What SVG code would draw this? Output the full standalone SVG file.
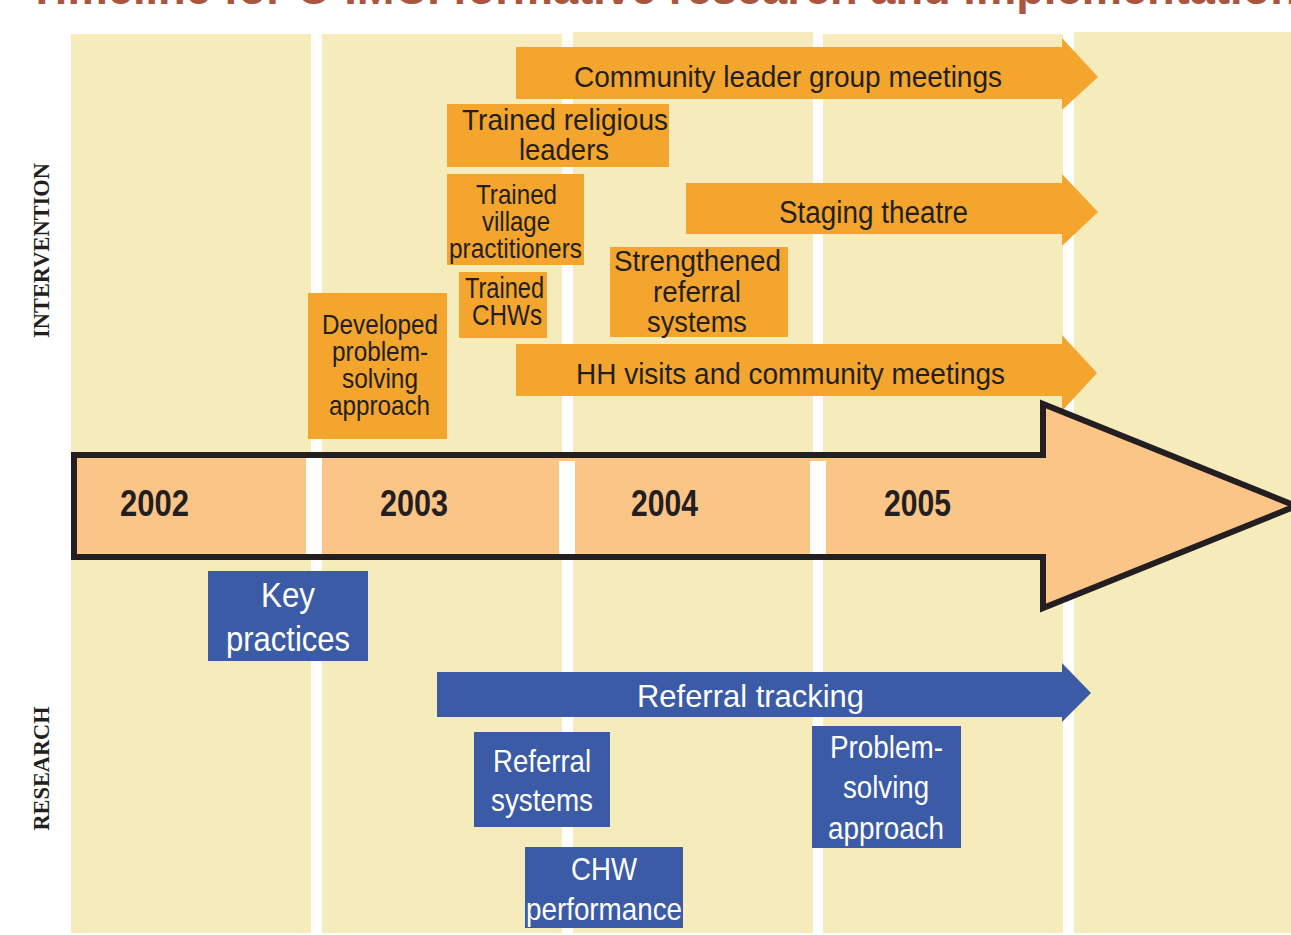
<svg xmlns="http://www.w3.org/2000/svg" width="1291" height="935" viewBox="0 0 1291 935">
<style>
.col{fill:#F5EBBB}
.gap{fill:#FFFFFF}
.orange{fill:#F4A52D}
.blue{fill:#3B5BA7}
.t{font-family:"Liberation Sans",Arial,Helvetica,sans-serif;fill:#231F20;lengthAdjust:spacingAndGlyphs}
.tw{font-family:"Liberation Sans",Arial,Helvetica,sans-serif;fill:#FFFFFF}
.yr{font-family:"Liberation Sans",Arial,Helvetica,sans-serif;font-weight:bold;font-size:37px;fill:#231F20}
.side{font-family:"Liberation Serif","Times New Roman",serif;font-weight:bold;font-size:24px;fill:#231F20}
</style>
<rect x="0" y="0" width="1291" height="935" fill="#FFFFFF"/>
<text x="28" y="4" font-family="Liberation Sans, Arial, sans-serif" font-weight="bold" font-size="46" fill="#A9553F" textLength="1270" lengthAdjust="spacingAndGlyphs">Timeline for C-IMCI formative research and implementation</text>

<g id="columns">
<rect class="col" x="71" y="34" width="240" height="899"/>
<rect class="col" x="322" y="34" width="240" height="899"/>
<rect class="col" x="573" y="32" width="240" height="901"/>
<rect class="col" x="823" y="34" width="240" height="899"/>
<rect class="col" x="1074" y="32" width="217" height="901"/>
</g>

<g id="label-intervention">
<text class="side" transform="translate(49,250.5) rotate(-90)" x="-87.5" y="0" textLength="175" lengthAdjust="spacingAndGlyphs">INTERVENTION</text>
</g>
<g id="label-research">
<text class="side" transform="translate(49,768.5) rotate(-90)" x="-62" y="0" textLength="124" lengthAdjust="spacingAndGlyphs">RESEARCH</text>
</g>

<g id="community-leader-meetings">
<polygon class="orange" points="516,47 1062,47 1062,38 1098,77 1062,110 1062,99 516,99"/>
<text class="t" x="574" y="87" font-size="30" textLength="428" lengthAdjust="spacingAndGlyphs">Community leader group meetings</text>
</g>

<g id="trained-religious-leaders">
<rect class="orange" x="447" y="104" width="222" height="63"/>
<text class="t" x="462" y="130" font-size="30" textLength="206" lengthAdjust="spacingAndGlyphs">Trained religious</text>
<text class="t" x="519" y="160" font-size="30" textLength="90" lengthAdjust="spacingAndGlyphs">leaders</text>
</g>

<g id="trained-village-practitioners">
<rect class="orange" x="447" y="174" width="137" height="91"/>
<text class="t" x="476" y="204" font-size="28" textLength="81" lengthAdjust="spacingAndGlyphs">Trained</text>
<text class="t" x="482" y="231" font-size="28" textLength="68" lengthAdjust="spacingAndGlyphs">village</text>
<text class="t" x="449" y="258" font-size="28" textLength="133" lengthAdjust="spacingAndGlyphs">practitioners</text>
</g>

<g id="staging-theatre">
<polygon class="orange" points="686,183 1062,183 1062,174 1098,212 1062,246 1062,234 686,234"/>
<text class="t" x="779" y="223" font-size="31" textLength="189" lengthAdjust="spacingAndGlyphs">Staging theatre</text>
</g>

<g id="trained-chws">
<rect class="orange" x="459" y="272" width="88" height="66"/>
<text class="t" x="465" y="298" font-size="29" textLength="79" lengthAdjust="spacingAndGlyphs">Trained</text>
<text class="t" x="472" y="325" font-size="29" textLength="70" lengthAdjust="spacingAndGlyphs">CHWs</text>
</g>

<g id="strengthened-referral-systems">
<rect class="orange" x="610" y="247" width="178" height="90"/>
<text class="t" x="614" y="271" font-size="30" textLength="167" lengthAdjust="spacingAndGlyphs">Strengthened</text>
<text class="t" x="653" y="302" font-size="30" textLength="88" lengthAdjust="spacingAndGlyphs">referral</text>
<text class="t" x="647" y="332" font-size="30" textLength="100" lengthAdjust="spacingAndGlyphs">systems</text>
</g>

<g id="developed-problem-solving">
<rect class="orange" x="308" y="293" width="139" height="146"/>
<text class="t" x="322" y="334" font-size="28" textLength="116" lengthAdjust="spacingAndGlyphs">Developed</text>
<text class="t" x="332" y="361" font-size="28" textLength="96" lengthAdjust="spacingAndGlyphs">problem-</text>
<text class="t" x="342" y="388" font-size="28" textLength="76" lengthAdjust="spacingAndGlyphs">solving</text>
<text class="t" x="329" y="415" font-size="28" textLength="101" lengthAdjust="spacingAndGlyphs">approach</text>
</g>

<g id="hh-visits">
<polygon class="orange" points="516,344 1062,344 1062,335 1097,373 1062,411 1062,396 516,396"/>
<text class="t" x="576" y="384" font-size="30" textLength="429" lengthAdjust="spacingAndGlyphs">HH visits and community meetings</text>
</g>

<g id="timeline">
<polygon points="74,455 1043,455 1043,404 1296,506 1043,608 1043,557 74,557" fill="#FCC588" stroke="#231F20" stroke-width="6" stroke-linejoin="miter"/>
<rect class="gap" x="306" y="458" width="16" height="96"/>
<rect class="gap" x="559" y="461" width="16" height="93"/>
<rect class="gap" x="810" y="461" width="16" height="93"/>
<text class="yr" x="120" y="516" textLength="69" lengthAdjust="spacingAndGlyphs">2002</text>
<text class="yr" x="380" y="516" textLength="68" lengthAdjust="spacingAndGlyphs">2003</text>
<text class="yr" x="631" y="516" textLength="67" lengthAdjust="spacingAndGlyphs">2004</text>
<text class="yr" x="884" y="516" textLength="67" lengthAdjust="spacingAndGlyphs">2005</text>
</g>

<g id="key-practices">
<rect class="blue" x="208" y="571" width="160" height="90"/>
<text class="tw" x="261" y="607" font-size="35" textLength="54" lengthAdjust="spacingAndGlyphs">Key</text>
<text class="tw" x="226" y="651" font-size="35" textLength="124" lengthAdjust="spacingAndGlyphs">practices</text>
</g>

<g id="referral-tracking">
<polygon class="blue" points="437,672 1062,672 1062,663 1091,693 1062,722 1062,717 437,717"/>
<text class="tw" x="637" y="707" font-size="32" textLength="227" lengthAdjust="spacingAndGlyphs">Referral tracking</text>
</g>

<g id="referral-systems">
<rect class="blue" x="474" y="732" width="136" height="95"/>
<text class="tw" x="493" y="772" font-size="32" textLength="98" lengthAdjust="spacingAndGlyphs">Referral</text>
<text class="tw" x="491" y="811" font-size="32" textLength="102" lengthAdjust="spacingAndGlyphs">systems</text>
</g>

<g id="chw-performance">
<rect class="blue" x="525" y="847" width="158" height="81"/>
<text class="tw" x="571" y="880" font-size="32" textLength="66" lengthAdjust="spacingAndGlyphs">CHW</text>
<text class="tw" x="526" y="920" font-size="32" textLength="156" lengthAdjust="spacingAndGlyphs">performance</text>
</g>

<g id="problem-solving-research">
<rect class="blue" x="812" y="726" width="149" height="122"/>
<text class="tw" x="830" y="758" font-size="31" textLength="113" lengthAdjust="spacingAndGlyphs">Problem-</text>
<text class="tw" x="843" y="798" font-size="31" textLength="86" lengthAdjust="spacingAndGlyphs">solving</text>
<text class="tw" x="828" y="839" font-size="31" textLength="116" lengthAdjust="spacingAndGlyphs">approach</text>
</g>
</svg>
